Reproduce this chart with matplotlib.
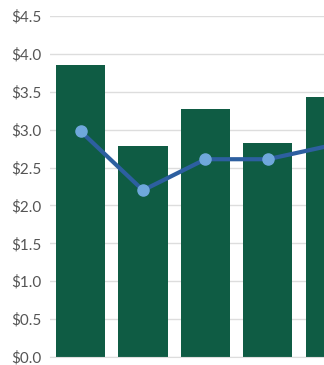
import matplotlib.pyplot as plt
import numpy as np
plt.rcParams["font.family"] = "Lato"

# Values (the fifth category is cut off at the right edge)
categories = ["A", "B", "C", "D", "E"]
bar_values = [3.85, 2.78, 3.27, 2.82, 3.43]
line_values = [2.98, 2.20, 2.61, 2.61, 2.79]
y_ticks = [0.0, 0.5, 1.0, 1.5, 2.0, 2.5, 3.0, 3.5, 4.0, 4.5]
y_labels = ["$%.1f" % v for v in y_ticks]

fig = plt.figure(figsize=(3.24, 3.65), dpi=100)
ax = fig.add_axes([50 / 324, 8 / 365, 274 / 324, 341 / 365])

x = np.arange(len(categories))
ax.bar(x, bar_values, width=0.79, color="#0F5C44", zorder=2)
ax.plot(x, line_values, color="#2D5FA0", linewidth=3, marker="o",
        markersize=8, markerfacecolor="#6FA8DC", markeredgecolor="#6FA8DC",
        zorder=3)

ax.set_ylim(0, 4.5)
ax.set_xlim(-0.49, 3.90)
ax.set_yticks(y_ticks)
ax.set_yticklabels(y_labels)
ax.set_xticks([])
ax.yaxis.grid(True, color="#dddddd", linewidth=1, zorder=0)
ax.set_axisbelow(True)
ax.tick_params(axis="y", length=0, pad=6, labelsize=11, labelcolor="#555555")
for side in ["top", "right", "left"]:
    ax.spines[side].set_visible(False)
ax.spines["bottom"].set_color("#dddddd")

fig.savefig("out.png", dpi=100)
